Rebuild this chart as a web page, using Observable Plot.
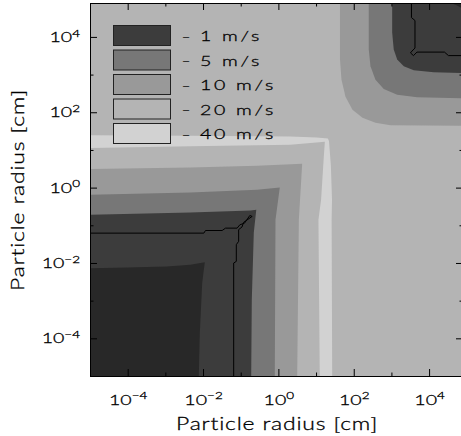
<!DOCTYPE html>
<html>
<head>
<meta charset="utf-8">
<script src="https://cdn.jsdelivr.net/npm/d3@7"></script>
<script src="https://cdn.jsdelivr.net/npm/@observablehq/plot@0.6"></script>
<style>
  html, body { margin: 0; padding: 0; background: #ffffff; overflow: hidden; }
  svg text { stroke: #000; stroke-width: 0.3px; }
</style>
</head>
<body>
<div id="chart"></div>
<script>
// Relative velocity of two colliding particles versus their radii a1, a2 (cm).
// Every contour is stored as a ring of [log10 a1, log10 a2] vertices.

const levels = [1, 5, 10, 20, 40];                                  // contour levels, m/s
const bands = ["<1", "1–5", "5–10", "10–20", "20–40", ">40"];       // velocity bands, m/s
const decades = [-4, -3, -2, -1, 0, 1, 2, 3, 4];                    // log10 radius ticks
const labelledDecades = [-4, -2, 0, 2, 4];
const axisTitle = "Particle radius [cm]";
const radiusRange = [-5, 4.9];                                      // log10 cm

// band enclosed by each ring
const ringBands = [">40", "10–20", "5–10", "1–5", "<1", "10–20", "5–10", "1–5", "<1"];

// 40 m/s: the L-shaped ridge where one of the grains is ~10-30 cm
const ridge40 = [[-5, 1.405], [-2.35, 1.39], [0.3, 1.37], [1.0, 1.345], [1.3, 1.32],
  [1.33, 1.25], [1.38, 0.6], [1.41, -0.3], [1.4, -0.84], [1.415, -5],
  [1.085, -5], [1.05, -0.84], [1.12, -0.31], [1.19, 0.8], [1.22, 1.23],
  [0.3, 1.15], [-2.35, 1.11], [-5, 1.064]];

// small-grain corner
const small20 = [[-5, -5], [-5, 0.506], [-2.35, 0.55], [-0.58, 0.594], [0.618, 0.647],
  [0.53, -0.84], [0.486, -5]];
const small10 = [[-5, -5], [-5, -0.177], [-2.35, -0.116], [-0.58, -0.044], [0.024, 0.017],
  [-0.09, -0.84], [-0.109, -5]];
const small5 = [[-5, -5], [-5, -0.708], [-2.35, -0.647], [-0.75, -0.594], [-0.6, -0.575],
  [-0.666, -1.187], [-0.719, -2.967], [-0.735, -5]];
const small1 = [[-5, -5], [-5, -2.125], [-4.02, -2.109], [-2.98, -2.082], [-2.35, -2.037],
  [-1.967, -1.965], [-2.036, -2.523], [-2.099, -3.852], [-2.126, -5]];

// large-grain corner
const large20 = [[4.9, 4.9], [1.622, 4.9], [1.622, 3.411], [1.661, 2.88], [1.768, 2.428],
  [1.953, 2.083], [2.219, 1.87], [2.564, 1.737], [2.962, 1.67], [4.9, 1.657]];
const large10 = [[4.9, 4.9], [2.386, 4.9], [2.386, 3.677], [2.431, 3.233], [2.564, 2.879],
  [2.784, 2.632], [3.14, 2.481], [3.671, 2.409], [4.9, 2.383]];
const large5 = [[4.9, 4.9], [3.007, 4.9], [3.007, 4.128], [3.049, 3.677], [3.14, 3.411],
  [3.315, 3.233], [3.58, 3.127], [4.111, 3.073], [4.9, 3.057]];
const large1 = [[4.9, 4.9], [4.6, 4.9], [4.7, 4.86], [4.828, 4.793], [4.9, 4.76]];

// threshold lines
const smallThreshold = [[-5, -1.195], [-1.992, -1.195], [-1.948, -1.125], [-1.506, -1.125],
  [-1.417, -1.062], [-1.108, -1.062], [-1.037, -0.974], [-0.913, -0.93], [-0.771, -0.726],
  [-0.709, -0.753], [-0.732, -0.766], [-0.935, -0.908], [-0.979, -1.032], [-1.068, -1.102],
  [-1.068, -1.412], [-1.13, -1.501], [-1.13, -1.944], [-1.2, -1.988], [-1.2, -5]];
const largeThreshold = [[3.519, 4.9], [3.519, 4.527], [3.612, 4.448], [3.612, 3.716],
  [3.532, 3.637], [3.493, 3.589], [3.572, 3.517], [3.665, 3.61], [4.395, 3.61],
  [4.501, 3.517], [4.9, 3.517]];

const rings = [ridge40, small20, small10, small5, small1, large20, large10, large5, large1];
const thresholds = [smallThreshold, largeThreshold];

const toRows = (list) => list.flatMap((ring, id) =>
  ring.map(([e1, e2]) => ({id, band: ringBands[id], a1: 10 ** e1, a2: 10 ** e2})));
const regionRows = toRows(rings);
const lineRows = toRows(thresholds);

const exp10 = (d) => 10 ** d;
const powerLabel = (d) => `10^${d < 0 ? "−" + (-d) : d}`;

// layout
const W = 461, H = 436;
const M = {left: 90, right: -2, top: 3, bottom: 60};
const frameW = W - M.left - M.right, frameH = H - M.top - M.bottom;
const major = 7, minor = 3.5;
const stretch = 1.35;                       // wide vector-font look
const FONT = "Lato, 'DejaVu Sans', sans-serif";
const greys = ["#282828", "#3c3c3c", "#777777", "#999999", "#b4b4b4", "#d2d2d2"];

const majorD = decades.filter((d) => labelledDecades.includes(d));
const minorD = decades.filter((d) => !labelledDecades.includes(d));

const chart = Plot.plot({
  width: W, height: H,
  marginLeft: M.left, marginRight: M.right, marginTop: M.top, marginBottom: M.bottom,
  style: {fontFamily: FONT, background: "#ffffff", color: "#000000", fontWeight: 300},
  x: {type: "log", domain: radiusRange.map(exp10), axis: null},
  y: {type: "log", domain: radiusRange.map(exp10), axis: null},
  color: {type: "ordinal", domain: bands, range: greys},
  marks: [
    Plot.frame({fill: greys[4], stroke: null}),
    Plot.line(regionRows, {x: "a1", y: "a2", z: "id", fill: "band", stroke: "none", curve: "linear-closed"}),
    Plot.line(lineRows, {x: "a1", y: "a2", z: "id", stroke: "#000", strokeWidth: 1, strokeLinejoin: "miter", strokeLinecap: "butt"}),
    // inward ticks on all four sides
    Plot.ruleX(majorD, {x: exp10, insetTop: frameH - major, stroke: "#000"}),
    Plot.ruleX(majorD, {x: exp10, insetBottom: frameH - major, stroke: "#000"}),
    Plot.ruleX(minorD, {x: exp10, insetTop: frameH - minor, stroke: "#000"}),
    Plot.ruleX(minorD, {x: exp10, insetBottom: frameH - minor, stroke: "#000"}),
    Plot.ruleY(majorD, {y: exp10, insetRight: frameW - major, stroke: "#000"}),
    Plot.ruleY(majorD, {y: exp10, insetLeft: frameW - major, stroke: "#000"}),
    Plot.ruleY(minorD, {y: exp10, insetRight: frameW - minor, stroke: "#000"}),
    Plot.ruleY(minorD, {y: exp10, insetLeft: frameW - minor, stroke: "#000"}),
    Plot.frame({stroke: "#000", strokeWidth: 1}),
    // tick labels
    Plot.text(majorD, {x: exp10, frameAnchor: "bottom", dy: 28, lineAnchor: "bottom", text: powerLabel, fontSize: 14.5, fill: "#000"}),
    Plot.text(majorD, {y: exp10, frameAnchor: "left", dx: -10.5, textAnchor: "end", lineAnchor: "middle", text: powerLabel, fontSize: 14.5, fill: "#000"}),
    // axis titles
    Plot.text([axisTitle], {frameAnchor: "bottom", dy: 53, textAnchor: "middle", lineAnchor: "bottom", fontSize: 17, fill: "#000"}),
    Plot.text([axisTitle], {frameAnchor: "left", dx: -67, rotate: -90, textAnchor: "middle", lineAnchor: "bottom", fontSize: 17, fill: "#000"})
  ]
});

const NS = "http://www.w3.org/2000/svg";
// superscript powers of ten
chart.querySelectorAll("text").forEach((t) => {
  const m = /^10\^(.+)$/.exec(t.textContent);
  if (!m) return;
  t.textContent = "";
  const base = document.createElementNS(NS, "tspan");
  base.textContent = "10";
  const sup = document.createElementNS(NS, "tspan");
  sup.textContent = m[1];
  sup.setAttribute("font-size", 10);
  sup.setAttribute("dy", -5.5);
  t.append(base, sup);
});
chart.querySelectorAll("text").forEach((t) => {
  if (t.textContent === axisTitle) t.setAttribute("letter-spacing", 0.6);
});

// legend of contour levels, drawn inside the frame
const color = chart.scale("color");
const legend = d3.select(chart).append("g")
  .attr("font-family", FONT).attr("font-weight", 300).attr("font-size", 14.5)
  .attr("fill", "#000").attr("text-anchor", "start");
levels.forEach((v, i) => {
  const y0 = 25 + i * 24.5;
  legend.append("rect")
    .attr("x", 113.5).attr("y", y0 + 0.5).attr("width", 57).attr("height", 20)
    .attr("fill", color.apply(bands[i + 1])).attr("stroke", "#222").attr("stroke-width", 1);
  legend.append("text").attr("transform", `translate(186,${y0 + 15.5})`)
    .attr("text-anchor", "middle").attr("font-size", 11).text("–");
  legend.append("text").attr("transform", `translate(200,${y0 + 16})`)
    .attr("letter-spacing", 2).text(`${v} m/s`);
});

// widen every label like a stroked vector font
chart.querySelectorAll("text").forEach((t) => {
  t.setAttribute("transform", `${t.getAttribute("transform") || ""} scale(${stretch},1)`);
});

document.getElementById("chart").append(chart);
</script>
</body>
</html>
